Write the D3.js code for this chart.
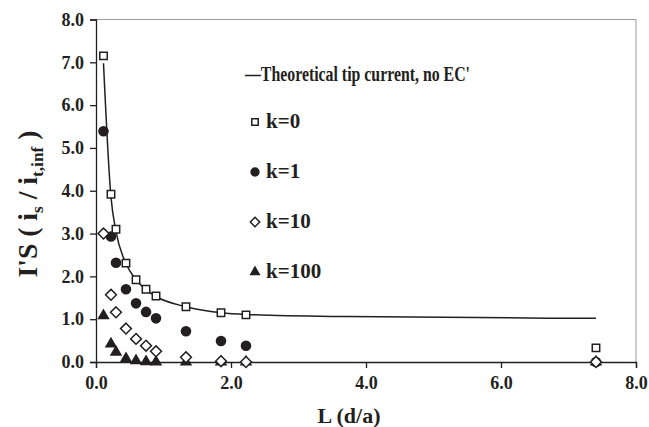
<!DOCTYPE html>
<html>
<head>
<meta charset="utf-8">
<script src="https://cdn.jsdelivr.net/npm/d3@7"></script>
<style>
  body { margin: 0; background: #fff; }
  svg text { font-family: "Times New Roman", "Liberation Serif", "DejaVu Serif", serif !important; font-weight: bold; fill: #231f20; }
</style>
</head>
<body>
<svg id="chart" width="649" height="427" font-family="Liberation Serif"></svg>
<script>
// distances L (d/a)
let xVals = [0.111, 0.222, 0.296, 0.444, 0.593, 0.741, 0.889, 1.333, 1.852, 2.222, 7.407];
let k0 = [7.15, 3.92, 3.10, 2.31, 1.92, 1.70, 1.54, 1.29, 1.15, 1.10, 0.33];
let k1 = [5.39, 2.93, 2.32, 1.70, 1.37, 1.17, 1.02, 0.72, 0.49, 0.38, 0.0];
let k10 = [3.00, 1.57, 1.16, 0.78, 0.54, 0.38, 0.25, 0.11, 0.02, 0.0, 0.0];
let k100 = [1.08, 0.42, 0.23, 0.08, 0.03, 0.01, 0.0, 0.0, 0.0, 0.0, 0.0];
// theoretical tip current, no EC'
let theoX = [0.111, 0.222, 0.296, 0.444, 0.593, 0.741, 0.889, 1.333, 1.852, 2.222, 3.704, 7.407];
let theoY = [6.98, 3.85, 3.05, 2.30, 1.92, 1.69, 1.53, 1.29, 1.15, 1.11, 1.06, 1.02];
let xTicks = [0, 2, 4, 6, 8];
let yTicks = [0, 1, 2, 3, 4, 5, 6, 7, 8];

let svg = d3.select('#chart');
let pad = {t: 19.5, r: 13, b: 65, l: 96};
let W = 649 - pad.l - pad.r;
let H = 427 - pad.t - pad.b;

let xScale = d3.scaleLinear().domain([0, 8]).range([0, W]);
let yScale = d3.scaleLinear().domain([0, 8]).range([H, 0]);

let g = svg.append('g').attr('transform', `translate(${pad.l},${pad.t})`);

// frame top/right
g.append('path')
    .attr('d', `M0,0H${W}V${H}`)
    .attr('fill', 'none')
    .attr('stroke', '#9a9a9a')
    .attr('stroke-width', 1);

let yAxis = g.append('g')
    .call(d3.axisLeft(yScale).tickValues(yTicks).tickFormat(d3.format('.1f')).tickSize(6).tickPadding(6));
let xAxis = g.append('g')
    .attr('transform', `translate(0,${H})`)
    .call(d3.axisBottom(xScale).tickValues(xTicks).tickFormat(d3.format('.1f')).tickSize(6).tickPadding(8));
[xAxis, yAxis].forEach(a => {
    a.attr('font-family', null);
    a.select('.domain').attr('stroke', '#231f20').attr('stroke-width', 1.3);
    a.selectAll('.tick line').attr('stroke', '#231f20').attr('stroke-width', 1.3);
    a.selectAll('.tick text').style('font-size', '18px').attr('fill', '#231f20');
});

// theoretical curve
let line = d3.line()
    .x((d, i) => xScale(theoX[i]))
    .y(d => yScale(d))
    .curve(d3.curveMonotoneX);
g.append('path')
    .datum(theoY)
    .attr('d', line)
    .attr('fill', 'none')
    .attr('stroke', '#231f20')
    .attr('stroke-width', 1.5);

let ink = '#231f20';
let series = [
    {name: 'k=0', data: k0, sym: d3.symbolSquare, size: 55, fill: '#fff'},
    {name: 'k=1', data: k1, sym: d3.symbolCircle, size: 65, fill: ink},
    {name: 'k=10', data: k10, sym: d3.symbolDiamond2, size: 75, fill: '#fff'},
    {name: 'k=100', data: k100, sym: d3.symbolTriangle, size: 42, fill: ink}
];

// draw in order so open markers sit on top like the original
[series[3], series[1], series[2], series[0]].forEach(s => {
    g.selectAll(null)
        .data(s.data)
        .enter()
        .append('path')
        .attr('transform', (d, i) => `translate(${xScale(xVals[i])},${yScale(d)})`)
        .attr('d', d3.symbol().type(s.sym).size(s.size))
        .attr('fill', s.fill)
        .attr('stroke', ink)
        .attr('stroke-width', 1.5);
});

// legend
let leg = svg.append('g');
leg.append('text')
    .attr('x', 245).attr('y', 81)
    .attr('textLength', 225)
    .attr('lengthAdjust', 'spacingAndGlyphs')
    .style('font-size', '20px')
    .text("\u2014Theoretical tip current, no EC'");
series.forEach((s, i) => {
    let y = 122 + i * 50;
    leg.append('path')
        .attr('transform', `translate(255,${y})`)
        .attr('d', d3.symbol().type(s.sym).size(s.size * 0.75))
        .attr('fill', s.fill)
        .attr('stroke', ink)
        .attr('stroke-width', 1.5);
    leg.append('text')
        .attr('x', 266).attr('y', y + 6)
        .style('font-size', '21px')
        .text(s.name);
});

// axis titles
svg.append('text')
    .attr('x', 349).attr('y', 423)
    .attr('text-anchor', 'middle')
    .style('font-size', '22px')
    .text('L (d/a)');

let ytG = svg.append('g');
let yt = ytG.append('text')
    .attr('text-anchor', 'middle')
    .style('font-size', '27px');
yt.append('tspan').text("I'S ( i");
yt.append('tspan').attr('dy', 6).style('font-size', '17px').text('s');
yt.append('tspan').attr('dy', -6).text(' / i');
yt.append('tspan').attr('dy', 6).style('font-size', '17px').text('t,inf');
yt.append('tspan').attr('dy', -6).text(' )');
// fit the title along its length to the span of the original
let ytW = yt.node().getBBox().width;
ytG.attr('transform', `translate(37,204) rotate(-90) scale(${147 / ytW},1)`);
</script>
</body>
</html>
